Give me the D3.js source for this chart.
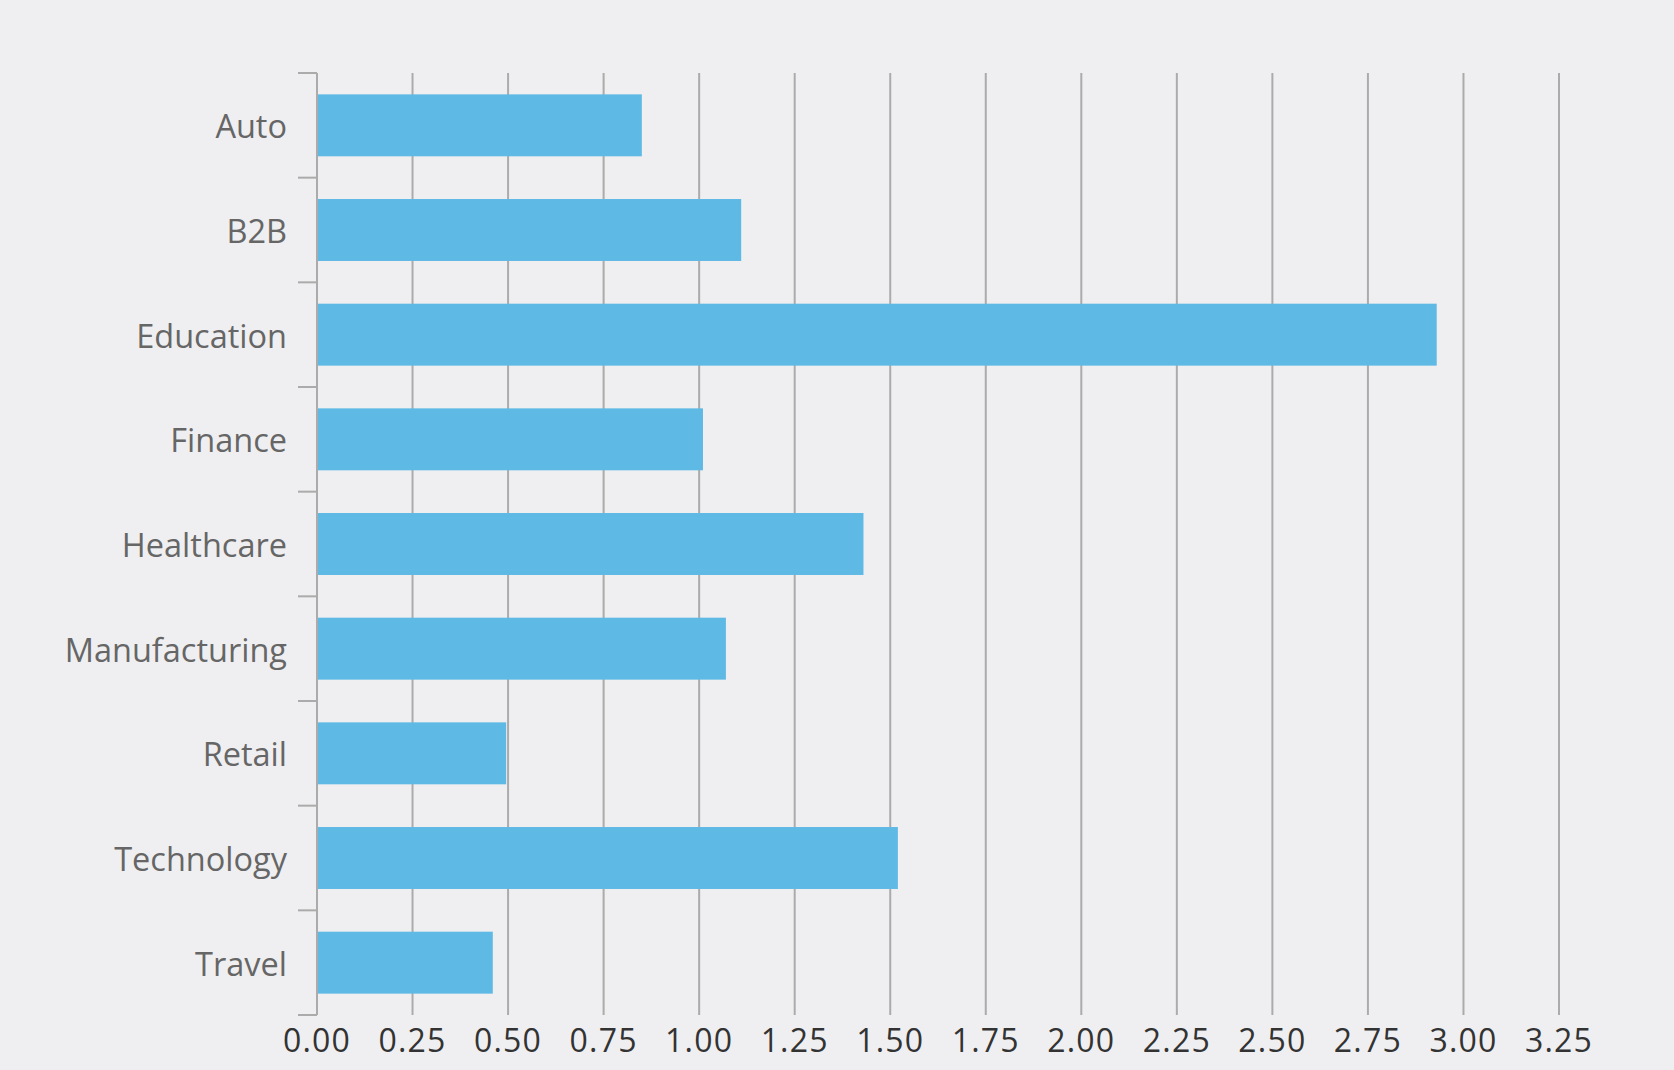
<!DOCTYPE html>
<html>
<head>
<meta charset="utf-8">
<script src="https://cdn.jsdelivr.net/npm/d3@7"></script>
<style>
  html, body { margin: 0; padding: 0; background: #efeff1; }
  svg { display: block; }
</style>
</head>
<body>
<svg id="chart" width="1674" height="1070"></svg>
<script>
const categories = ["Auto", "B2B", "Education", "Finance", "Healthcare", "Manufacturing", "Retail", "Technology", "Travel"];
const values = [0.85, 1.11, 2.93, 1.01, 1.43, 1.07, 0.495, 1.52, 0.46];
const xTicks = [0, 0.25, 0.5, 0.75, 1, 1.25, 1.5, 1.75, 2, 2.25, 2.5, 2.75, 3, 3.25];

const W = 1674, H = 1070;
const margin = { left: 317, right: 115, top: 73, bottom: 55 };
const svg = d3.select("#chart");
svg.append("rect").attr("width", W).attr("height", H).attr("fill", "#efeff1");

const x = d3.scaleLinear().domain([0, 3.25]).range([margin.left, W - margin.right]);
const y = d3.scaleBand().domain(categories).range([margin.top, H - margin.bottom])
  .paddingInner(0.408).paddingOuter(0.204);

const gridColor = "#ababab";
const font = "'Open Sans', 'Noto Sans', sans-serif";

// vertical gridlines
svg.append("g").selectAll("line").data(xTicks.slice(1)).join("line")
  .attr("x1", d => x(d)).attr("x2", d => x(d))
  .attr("y1", margin.top).attr("y2", H - margin.bottom)
  .attr("stroke", gridColor).attr("stroke-width", 2);

// bars
svg.append("g").selectAll("rect").data(categories).join("rect")
  .attr("x", x(0))
  .attr("y", d => y(d))
  .attr("width", (d, i) => x(values[i]) - x(0))
  .attr("height", y.bandwidth())
  .attr("fill", "#5fb9e5");

// y axis line and boundary ticks
const step = y.step();
const yr = y.range();
const boundaries = d3.range(categories.length + 1).map(i => yr[0] + i * step);
svg.append("line")
  .attr("x1", x(0)).attr("x2", x(0))
  .attr("y1", yr[0]).attr("y2", yr[1])
  .attr("stroke", gridColor).attr("stroke-width", 2);
svg.append("g").selectAll("line").data(boundaries).join("line")
  .attr("x1", x(0) - 19).attr("x2", x(0))
  .attr("y1", d => d).attr("y2", d => d)
  .attr("stroke", gridColor).attr("stroke-width", 2);

// category labels
svg.append("g").selectAll("text").data(categories).join("text")
  .attr("x", x(0) - 30)
  .attr("y", d => y(d) + y.bandwidth() / 2)
  .attr("dy", "0.4em")
  .attr("text-anchor", "end")
  .attr("font-family", font)
  .attr("font-size", 32.5)
  .attr("fill", "#666666")
  .text(d => d);

// x tick labels
svg.append("g").selectAll("text").data(xTicks).join("text")
  .attr("x", d => x(d))
  .attr("y", H - margin.bottom + 25)
  .attr("dy", "0.36em")
  .attr("text-anchor", "middle")
  .attr("font-family", font)
  .attr("font-size", 32)
  .attr("letter-spacing", 1.2)
  .attr("fill", "#333333")
  .text(d => d3.format(".2f")(d));
</script>
</body>
</html>
